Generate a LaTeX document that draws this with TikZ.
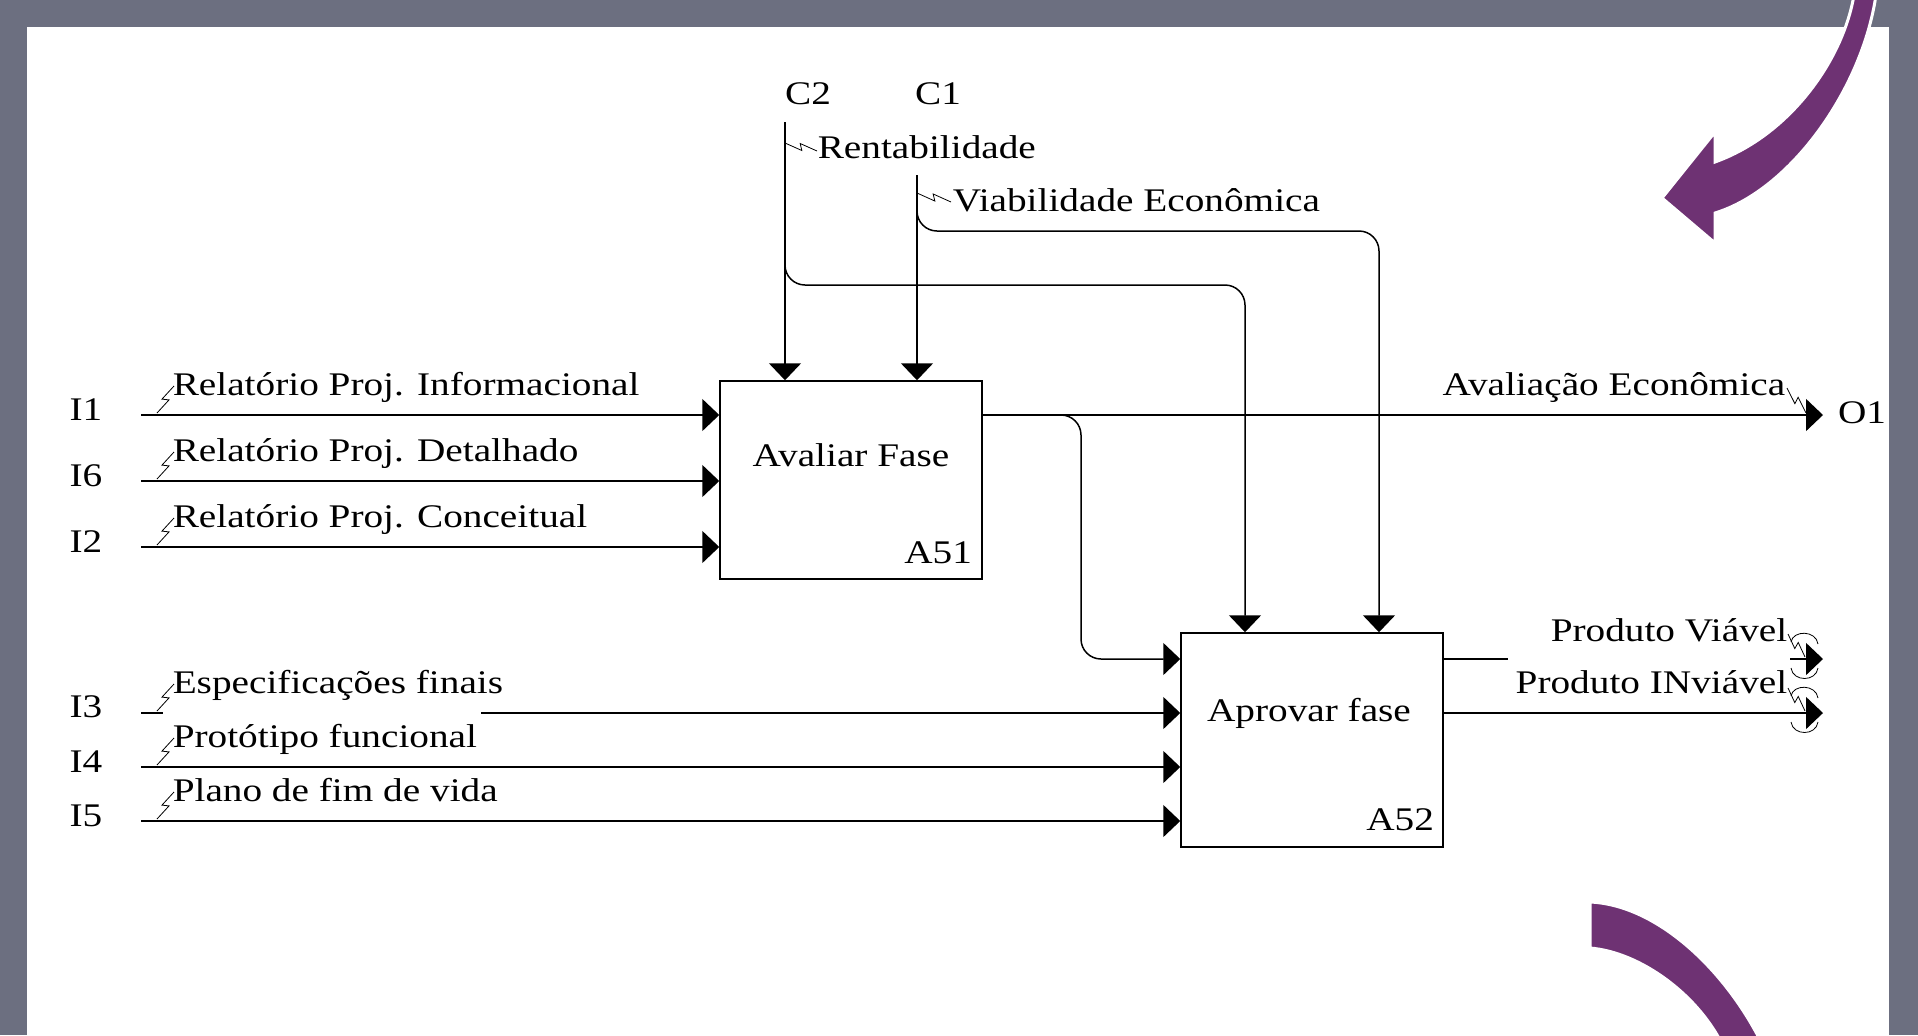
\documentclass[tikz,border=0pt]{standalone}
\usepackage{fontspec}
\setmainfont{Liberation Serif}[FakeStretch=1.19]
\usetikzlibrary{arrows.meta,positioning,calc}
\definecolor{frame}{RGB}{108,111,128}
\definecolor{plum}{RGB}{110,50,115}
% lightning leader between a label and its arrow
\newcommand{\squig}[2]{\draw[line width=0.4pt] (#1) -- ($(#1)!.55!(#2)!1.6pt!-90:(#2)$) -- ($(#1)!.45!(#2)!1.6pt!90:(#2)$) -- (#2);}
\begin{document}
\begin{tikzpicture}[
 x=0.5pt, y=-0.5pt,
 line width=0.75pt,
 >={Triangle[length=8.5pt,width=16pt]},
 font=\fontsize{16.5}{19}\selectfont,
 box/.style={draw=black,rectangle,minimum width=131pt,inner sep=0pt},
 tag/.style={inner sep=0pt},
 elbow/.style={rounded corners=10pt},
 tunnel/.pic={
  \draw[line width=0.4pt] (-32,-17) .. controls (-30,-29) and (-7,-29) .. (-5,-15);
  \draw[line width=0.4pt] (-32,9) .. controls (-30,23) and (-7,23) .. (-5,9);
 }
]
\clip (0,0) rectangle (1918,1035);
\fill[frame] (0,0) rectangle (1918,1035);
\fill[white] (27,27) rectangle (1889,1035);

% slide arrows
\filldraw[plum,draw=white,line width=1.5pt] (1854,-5) .. controls (1843,60) and (1790,135) .. (1715,162)
  -- (1715,132) -- (1662,198) -- (1715,243) -- (1715,213)
  .. controls (1790,190) and (1862,90) .. (1876,-5) -- cycle;
\filldraw[plum,draw=white,line width=1.5pt] (1590,902) .. controls (1660,905) and (1730,975) .. (1765,1050)
  -- (1725,1050) .. controls (1700,995) and (1640,952) .. (1590,948) -- cycle;

% activities
\node (a51) [box,minimum height=99pt] at (851,480) {};
\node (a52) [box,minimum height=107pt] at (1312,740) {};
\node (a51-name) at ([yshift=12.5pt]a51.center) {Avaliar Fase};
\node (a52-name) at ([xshift=-1.5pt,yshift=13.5pt]a52.center) {Aprovar fase};
\node (a51-id) [tag,anchor=base east] at ([shift={(-10,-16)}]a51.south east) {A51};
\node (a52-id) [tag,anchor=base east] at ([shift={(-9,-17)}]a52.south east) {A52};

% controls
\node (c2-tag) at (808,94) {C2};
\node (c1-tag) at (938,94) {C1};
\coordinate (c2) at (785,122);
\coordinate (c1) at (917,175);
\draw[->] (c2) -- (c2 |- a51.north);
\draw[->] (c1) -- (c1 |- a51.north);
\node (c2-label) [tag,anchor=base west] at (817,158) {Rentabilidade};
\node (c1-label) [tag,anchor=base west] at (952,211) {Viabilidade Econômica};
\squig{785,143}{817,151}
\squig{917,193}{951,202}
\coordinate (c2-split) at (785,250);
\coordinate (c1-split) at (917,200);
\coordinate (c2-turn) at (1245,285);
\coordinate (c1-turn) at (1379,231);
\draw[->,elbow] (c2-split) |- (c2-turn) -- (c2-turn |- a52.north);
\draw[->,elbow] (c1-split) |- (c1-turn) -- (c1-turn |- a52.north);

% inputs of A51
\node (i1-tag) at (86,410) {I1};
\node (i6-tag) at (86,476) {I6};
\node (i2-tag) at (86,542) {I2};
\coordinate (i1) at (141,415);
\coordinate (i6) at (141,481);
\coordinate (i2) at (141,547);
\draw[->] (i1) -- (i1 -| a51.west);
\draw[->] (i6) -- (i6 -| a51.west);
\draw[->] (i2) -- (i2 -| a51.west);
\node (i1-label) [tag,anchor=base west] at (172,395) {Relatório Proj. Informacional};
\node (i6-label) [tag,anchor=base west] at (172,461) {Relatório Proj. Detalhado};
\node (i2-label) [tag,anchor=base west] at (172,527) {Relatório Proj. Conceitual};
\squig{174,386}{157,413}
\squig{174,452}{157,479}
\squig{174,518}{157,545}

% inputs of A52
\node (i3-tag) at (86,707) {I3};
\node (i4-tag) at (86,762) {I4};
\node (i5-tag) at (86,816) {I5};
\coordinate (i3) at (141,713);
\coordinate (i4) at (141,767);
\coordinate (i5) at (141,821);
\coordinate (i3-cut) at (163,713);
\coordinate (i3-resume) at (481,713);
\draw (i3) -- (i3-cut);
\draw[->] (i3-resume) -- (i3-resume -| a52.west);
\draw[->] (i4) -- (i4 -| a52.west);
\draw[->] (i5) -- (i5 -| a52.west);
\node (i3-label) [tag,anchor=base west] at (172,693) {Especificações finais};
\node (i4-label) [tag,anchor=base west] at (172,747) {Protótipo funcional};
\node (i5-label) [tag,anchor=base west] at (172,801) {Plano de fim de vida};
\squig{174,684}{157,711}
\squig{174,738}{157,765}
\squig{174,792}{157,819}

% A51 output, to O1 and into A52
\coordinate (fb) at (1050,415);
\coordinate (fb-turn) at (1081,659);
\coordinate (o1) at (1823,415);
\draw[->] (fb -| a51.east) -- (o1);
\draw[->,elbow] (fb) -| (fb-turn) -- (fb-turn -| a52.west);
\node (o1-tag) at (1862,413) {O1};
\node (o1-label) [tag,anchor=base east] at (1786,395) {Avaliação Econômica};
\squig{1806,413}{1787,388}

% A52 outputs
\coordinate (pv) at (1823,659);
\coordinate (pi) at (1823,713);
\coordinate (pv-cut) at (1508,659);
\coordinate (pv-resume) at (1790,659);
\draw (a52.east |- pv) -- (pv-cut);
\draw[->] (pv-resume) -- (pv);
\draw[->] (a52.east |- pi) -- (pi);
\pic at (pv) {tunnel};
\pic at (pi) {tunnel};
\node (pv-label) [tag,anchor=base east] at (1788,641) {Produto Viável};
\node (pi-label) [tag,anchor=base east] at (1788,693) {Produto INviável};
\squig{1805,657}{1788,634}
\squig{1805,711}{1788,688}
\end{tikzpicture}
\end{document}
